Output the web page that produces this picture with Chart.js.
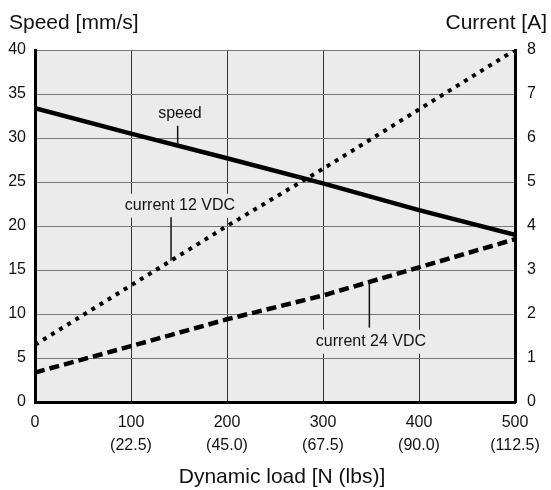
<!DOCTYPE html>
<html><head><meta charset="utf-8">
<script src="https://cdn.jsdelivr.net/npm/chart.js@4"></script>
<style>html,body{margin:0;padding:0;background:#fff}#wrap{width:551px;height:490px;position:relative}</style>
</head><body><div id="wrap"><canvas id="c" width="551" height="490"></canvas></div>
<script>
// ---- data ----
const loads = [0, 100, 200, 300, 400, 500];
const loadLbs = ['', '(22.5)', '(45.0)', '(67.5)', '(90.0)', '(112.5)'];
const speed = [33.4, 30.5, 27.7, 24.85, 21.8, 19.0];
const current12 = [1.3, 2.65, 4.0, 5.3, 6.65, 8.0];
const current24 = [0.67, 1.27, 1.88, 2.42, 3.06, 3.7];
const leftTitle = 'Speed [mm/s]';
const rightTitle = 'Current [A]';
const xTitle = 'Dynamic load [N (lbs)]';
// annotation labels: text, label position (x load, y speed-units), leader x, leader end (speed units), series index
const notes = [
  {text: 'speed', x: 151, y: 32.8, lx: 148.6, ly: 31.4, series: 0},
  {text: 'current 12 VDC', x: 151, y: 22.3, lx: 141.7, ly: 21.0, series: 1},
  {text: 'current 24 VDC', x: 350, y: 6.85, lx: 348.3, ly: 8.45, series: 2}
];

const FONT = "'Liberation Sans', Arial, sans-serif";
const pts = arr => loads.map((x, i) => ({x: x, y: arr[i]}));

function valueAt(arr, x) {
  for (let i = 0; i < loads.length - 1; i++) {
    if (x >= loads[i] && x <= loads[i + 1]) {
      const t = (x - loads[i]) / (loads[i + 1] - loads[i]);
      return arr[i] + t * (arr[i + 1] - arr[i]);
    }
  }
  return arr[arr.length - 1];
}

const bgPlugin = {
  id: 'bg',
  beforeDraw(chart) {
    const {ctx, chartArea: a} = chart;
    ctx.save();
    ctx.fillStyle = '#ebebeb';
    ctx.fillRect(a.left, a.top, a.right - a.left, a.bottom - a.top);
    ctx.restore();
  }
};

const textPlugin = {
  id: 'texts',
  afterDatasetsDraw(chart) {
    const {ctx} = chart;
    const sx = chart.scales.x, sy = chart.scales.y, sy1 = chart.scales.y1;
    const series = [speed, current12, current24];
    ctx.save();
    notes.forEach(n => {
      ctx.font = '16px ' + FONT;
      const px = sx.getPixelForValue(n.x), py = sy.getPixelForValue(n.y);
      const w = ctx.measureText(n.text).width;
      ctx.fillStyle = '#ebebeb';
      ctx.fillRect(px - w / 2 - 3, py - 12, w + 6, 24);
      ctx.fillStyle = '#111';
      ctx.textAlign = 'center';
      ctx.textBaseline = 'middle';
      ctx.fillText(n.text, px, py);
      // leader line
      const lx = sx.getPixelForValue(n.lx);
      const arr = series[n.series];
      const v = valueAt(arr, n.lx);
      const lineY = n.series === 0 ? sy.getPixelForValue(v) : sy1.getPixelForValue(v);
      ctx.strokeStyle = '#111';
      ctx.lineWidth = 1.5;
      ctx.beginPath();
      ctx.moveTo(lx, sy.getPixelForValue(n.ly));
      ctx.lineTo(lx, lineY);
      ctx.stroke();
    });
    // axis titles
    ctx.fillStyle = '#111';
    ctx.textBaseline = 'alphabetic';
    ctx.font = '21px ' + FONT;
    ctx.textAlign = 'left';
    ctx.fillText(leftTitle, 9, 29);
    ctx.textAlign = 'right';
    ctx.fillText(rightTitle, 547, 29);
    ctx.textAlign = 'center';
    ctx.fillText(xTitle, 282, 483);
    ctx.restore();
  }
};

new Chart(document.getElementById('c'), {
  type: 'line',
  data: {
    datasets: [
      {label: 'speed', data: pts(speed), yAxisID: 'y', borderColor: '#000', borderWidth: 4.5, pointRadius: 0, fill: false, borderCapStyle: 'butt'},
      {label: 'current 12 VDC', data: pts(current12), yAxisID: 'y1', borderColor: '#000', borderWidth: 4, borderDash: [4, 5.5], pointRadius: 0, fill: false, borderCapStyle: 'butt'},
      {label: 'current 24 VDC', data: pts(current24), yAxisID: 'y1', borderColor: '#000', borderWidth: 4.5, borderDash: [10, 5], pointRadius: 0, fill: false, borderCapStyle: 'butt'}
    ]
  },
  options: {
    responsive: false,
    animation: false,
    devicePixelRatio: 1,
    layout: {padding: {top: 50, left: 0, right: 0, bottom: 0}},
    plugins: {legend: {display: false}, tooltip: {enabled: false}},
    scales: {
      x: {
        type: 'linear', min: 0, max: 500,
        ticks: {
          stepSize: 100, padding: 9.5, color: '#111', maxRotation: 0,
          font: {family: FONT, size: 16, lineHeight: 23 / 16},
          callback: (value) => {
            const i = loads.indexOf(value);
            if (i <= 0) return String(value);
            return [String(value), loadLbs[i]];
          }
        },
        grid: {color: '#333', lineWidth: 1, drawTicks: false},
        border: {display: true, color: '#000', width: 3},
        afterFit: s => { s.height = 88; }
      },
      y: {
        position: 'left', min: 0, max: 40,
        ticks: {stepSize: 5, padding: 9, color: '#111', font: {family: FONT, size: 16}},
        grid: {color: '#777', lineWidth: 1, drawTicks: false},
        border: {display: true, color: '#000', width: 3},
        afterFit: s => { s.width = 35; }
      },
      y1: {
        position: 'right', min: 0, max: 8,
        ticks: {stepSize: 1, padding: 12, color: '#111', font: {family: FONT, size: 16}},
        grid: {display: false, drawTicks: false},
        border: {display: true, color: '#000', width: 3},
        afterFit: s => { s.width = 36; }
      }
    }
  },
  plugins: [bgPlugin, textPlugin]
});
</script>
</body></html>
